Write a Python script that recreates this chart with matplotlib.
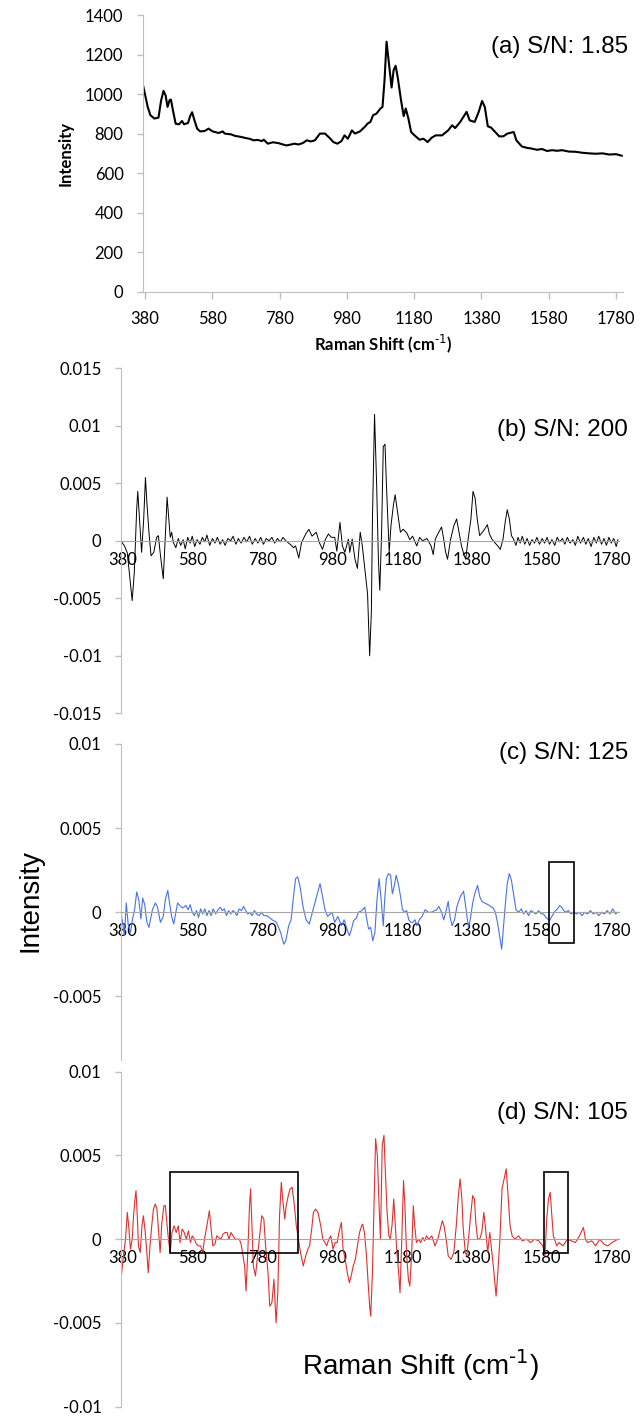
import matplotlib.pyplot as plt
from matplotlib.patches import Rectangle

plt.rcParams['font.family'] = ['Lato', 'DejaVu Sans']

# (a) raw spectrum
raman_a = [374, 388, 396, 408, 420, 428, 435, 441, 447, 453, 457, 463, 471, 481, 490, 496,
           508, 514, 520, 527, 535, 544, 557, 569, 581, 599, 611, 617, 636, 648, 663, 678,
           690, 703, 715, 727, 733, 745, 760, 776, 788, 800, 812, 824, 836, 849, 861, 873,
           885, 900, 915, 928, 940, 952, 964, 973, 983, 995, 1004, 1019, 1035, 1041, 1050,
           1058, 1068, 1080, 1086, 1092, 1098, 1104, 1113, 1119, 1125, 1131, 1141, 1149,
           1155, 1163, 1171, 1183, 1196, 1208, 1220, 1232, 1244, 1263, 1281, 1293, 1302,
           1317, 1336, 1345, 1360, 1372, 1382, 1390, 1399, 1409, 1421, 1433, 1445, 1457,
           1476, 1484, 1500, 1515, 1530, 1545, 1560, 1575, 1590, 1605, 1620, 1640, 1660,
           1680, 1700, 1720, 1740, 1760, 1780, 1797]
intensity_a = [1045, 935, 893, 876, 881, 969, 1016, 994, 935, 969, 972, 918, 850, 847, 864, 847,
               854, 888, 908, 867, 825, 811, 813, 825, 811, 803, 811, 800, 796, 788, 784, 778,
               774, 766, 768, 762, 769, 749, 756, 752, 746, 740, 744, 749, 745, 752, 766, 760,
               766, 800, 800, 779, 757, 749, 762, 791, 774, 816, 800, 811, 837, 850, 859,
               893, 901, 927, 935, 1070, 1265, 1172, 1033, 1121, 1143, 1087, 969, 888,
               927, 876, 808, 788, 769, 774, 757, 779, 791, 791, 816, 842, 828,
               859, 910, 867, 859, 910, 965, 935, 837, 830, 808, 786, 786, 800,
               808, 766, 735, 728, 724, 718, 722, 712, 716, 713, 716, 709, 708,
               703, 700, 698, 700, 694, 696, 688]

# (b) second derivative, S/N 200
raman_b = [374, 384, 392, 401, 406, 412, 419, 422, 427, 433, 439, 444, 448, 454, 460, 468,
           476, 481, 486, 495, 501, 506, 511, 515, 519, 524, 531, 538, 545, 552, 558, 565,
           572, 578, 585, 592, 600, 607, 614, 620, 628, 636, 643, 650, 658, 665, 672, 680,
           688, 695, 703, 710, 718, 726, 734, 742, 750, 758, 766, 774, 782, 790, 798, 806,
           814, 822, 830, 838, 846, 854, 862, 868, 874, 883, 891, 903, 912, 921, 933, 942,
           951, 959, 968, 976, 986, 992, 1001, 1008, 1015, 1025, 1029, 1036, 1044, 1051,
           1059, 1065, 1072, 1080, 1086, 1091, 1094, 1100, 1106, 1111, 1115, 1120, 1125,
           1130, 1134, 1139, 1142, 1147, 1154, 1159, 1166, 1174, 1182, 1192, 1201, 1209,
           1221, 1229, 1238, 1250, 1262, 1268, 1274, 1284, 1292, 1298, 1303, 1309, 1318,
           1327, 1335, 1342, 1349, 1356, 1361, 1368, 1376, 1382, 1388, 1394, 1401, 1409,
           1415, 1423, 1429, 1436, 1444, 1453, 1460, 1468, 1474, 1480, 1486, 1492, 1498,
           1505, 1511, 1517, 1523, 1530, 1537, 1544, 1551, 1558, 1565, 1572, 1580, 1587,
           1594, 1601, 1608, 1616, 1623, 1630, 1638, 1645, 1652, 1660, 1668, 1675, 1682,
           1690, 1698, 1705, 1712, 1720, 1728, 1735, 1742, 1750, 1757, 1764, 1771, 1778,
           1785, 1792, 1797]
deriv_b = [0.0, -0.00045, -0.00104, -0.0037, -0.0052, -0.0028, 0.0028, 0.0043, 0.0019, -0.001,
           0.0019, 0.0055, 0.0034, 0.00075, -0.0013, -0.001, 0.0003, 0.00045, -0.001, -0.0033,
           0.00045, 0.0038, 0.0019, 0.0003, 0.00075, -0.00015, -0.0006, 0.0002, -0.0004,
           0.0001, -0.0007, 0.0003, -0.0002, 0.0004, -0.0005, 0.0001, -0.0003, 0.0003, -0.0001,
           0.0005, -0.0004, 0.0002, -0.0002, 0.0003, -0.0003, 0.0001, -0.0004, 0.0002, 0.0,
           0.0004, -0.0003, 0.0002, -0.0002, 0.0003, -0.0001, 0.0004, -0.0003, 0.0002, -0.0002,
           0.0003, -0.0003, 0.0002, 0.0, 0.0003, -0.0002, 0.0002, -0.0001, 0.0003, 0.0,
           -0.0002, -0.0004, -0.0006, -0.00045, -0.0015, -0.00015, 0.0006, 0.001, 0.0004,
           0.00075, -0.00015, -0.00075, 0.0001, 0.0006, 0.0003, 0.0003, -0.0009, 0.0016,
           -0.00045, -0.001, 0.00015, -0.001, 0.00015, -0.0016, -0.0024, 0.00075, -0.00045,
           -0.0024, -0.0046, -0.01, -0.0061, 0.0019, 0.011, 0.0049, -0.0016, -0.0043, 0.00045,
           0.0082, 0.0084, 0.0049, 0.0013, -0.001, 0.0013, 0.0031, 0.004, 0.0025, 0.00075,
           0.001, 0.0007, 0.0001, 0.0004, -0.00045, 0.0003, 0.0, 0.0002, -0.00045, -0.0012,
           0.00015, 0.00075, 0.0012, 0.00015, -0.0009, -0.0016, 0.00015, 0.0013, 0.0019,
           0.00075, -0.00045, -0.0012, -0.0016, 0.00015, 0.0019, 0.0043, 0.0037, 0.0019,
           0.00045, 0.00075, 0.001, 0.0014, 0.0006, 0.00015, -0.00015, -0.00045, -0.00075,
           0.00015, 0.0016, 0.0027, 0.0019, 0.00045, 0.00015, -0.0004, 0.0003, -0.0002,
           0.0004, -0.0003, 0.0002, -0.0004, 0.0001, -0.0002, 0.0003, -0.0003, 0.0002,
           -0.0002, 0.0003, -0.0003, 0.0001, -0.0004, 0.0003, -0.0001, 0.0002, -0.0003,
           0.0003, -0.0002, 0.0001, -0.0004, 0.0004, -0.0002, 0.0003, -0.0003, 0.0002,
           -0.0005, 0.0003, -0.0002, 0.0004, -0.0003, 0.0002, -0.0004, 0.0003, -0.0002,
           0.0002, -0.0005, 0.0001]

# (c) second derivative, S/N 125
raman_c = [374, 384, 389, 395, 401, 407, 413, 419, 425, 431, 436, 442, 448, 454, 464, 472,
           478, 487, 495, 501, 508, 513, 519, 525, 531, 536, 545, 551, 560, 566, 572, 578,
           584, 590, 596, 602, 608, 614, 620, 626, 632, 638, 645, 652, 658, 664, 670, 676,
           682, 688, 694, 700, 706, 712, 719, 725, 731, 737, 743, 749, 756, 762, 770, 776,
           783, 790, 795, 807, 819, 831, 840, 846, 854, 861, 868, 874, 880, 887, 895, 904,
           913, 922, 934, 944, 951, 958, 966, 978, 986, 995, 1005, 1013, 1021, 1028, 1034,
           1040, 1048, 1054, 1064, 1072, 1078, 1083, 1089, 1095, 1101, 1107, 1113, 1119,
           1125, 1129, 1134, 1140, 1146, 1151, 1156, 1162, 1168, 1174, 1180, 1186, 1192,
           1198, 1204, 1209, 1216, 1221, 1228, 1236, 1245, 1254, 1264, 1272, 1278, 1284,
           1292, 1298, 1304, 1311, 1316, 1322, 1329, 1336, 1346, 1355, 1362, 1369, 1374,
           1381, 1387, 1395, 1401, 1407, 1415, 1425, 1433, 1440, 1446, 1452, 1458, 1464,
           1468, 1474, 1480, 1486, 1492, 1499, 1505, 1513, 1520, 1527, 1534, 1541, 1548,
           1555, 1562, 1570, 1577, 1584, 1590, 1596, 1601, 1606, 1612, 1618, 1624, 1630,
           1636, 1642, 1648, 1655, 1662, 1670, 1678, 1686, 1694, 1702, 1710, 1718, 1726,
           1734, 1742, 1750, 1758, 1766, 1774, 1782, 1790, 1797]
deriv_c = [0.0, -0.0014, 0.00055, -0.0008, -0.0012, -0.0004, 0.00015, 0.0012, 0.00075,
           -0.0004, 0.00085, 0.00045, -0.0006, -0.0009, 0.00015, 0.00055, 0.00035, -0.0006,
           -0.00025, 0.00075, 0.0013, 0.00055, -0.00025, -0.0007, 0.0, 0.00055, 0.00035,
           0.00025, 0.0004, 0.00015, 0.00045, 0.0, -0.0002, 0.0001, -0.0003, 0.0002, -0.0001,
           0.0002, -0.0002, 0.0001, -0.0002, 0.0002, -0.0001, 0.00015, 0.0003, 0.0001, 0.0002,
           -0.0002, 0.0001, -0.0001, 0.0001, 0.0, -0.0002, 0.0002, 0.0001, 0.00035, 0.0001,
           -0.0001, 0.0, -0.0002, 0.0001, -0.0001, -0.0002, 0.0, -0.0002, -0.0002, -0.00025,
           -0.00045, -0.0006, -0.0012, -0.0019, -0.0017, -0.0008, -0.00045, 0.00095, 0.002,
           0.0021, 0.0015, 0.00035, -0.00045, -0.0007, 0.0, 0.00095, 0.0017, 0.00095,
           0.00015, -0.00025, 0.0, -0.0006, -0.00025, -0.0008, -0.00045, -0.001, -0.0014,
           -0.001, -0.0005, -0.00035, 0.0, 0.0001, 0.0003, -0.00045, -0.001, -0.0009, -0.0017,
           -0.0012, 0.00075, 0.002, 0.00075, -0.0008, 0.00075, 0.002, 0.0023, 0.0022, 0.0011,
           0.0015, 0.0022, 0.0017, 0.001, 0.00015, 0.0, 0.0001, -0.00045, -0.0006, -0.0006,
           -0.00045, -0.0008, -0.00045, -0.00025, 0.00015, 0.0, 0.0, 0.0001, 0.00015, 0.00035,
           0.0, -0.00045, 0.0, 0.00065, -0.00025, -0.0008, -0.00045, 0.00035, 0.00095,
           0.00125, 0.00015, -0.0009, -0.00045, 0.00055, 0.0011, 0.0016, 0.00095, 0.00065,
           0.00055, 0.00045, 0.00035, 0.00025, 0.0, -0.0006, -0.0014, -0.0022, -0.0012,
           0.00035, 0.0017, 0.0023, 0.0019, 0.00095, 0.00015, 0.0, 0.0002, -0.0001, 0.0001,
           -0.0002, 0.0001, 0.0, -0.0001, 0.0001, -0.0001, -0.0001, -0.0003, -0.0004, -0.0005,
           -0.0003, -0.0001, 0.0001, 0.0002, 0.0004, 0.0003, 0.0001, 0.0, 0.0001, -0.0001,
           0.0, -0.0001, 0.0, -0.0002, 0.0, -0.0001, 0.0001, -0.0001, 0.0, -0.0002, 0.0,
           -0.0001, 0.0001, -0.0001, 0.0002, -0.0001, 0.0]

# (d) second derivative, S/N 105
raman_d = [374, 382, 387, 392, 396, 401, 406, 410, 414, 417, 421, 424, 429, 434, 438, 443,
           448, 452, 457, 462, 467, 472, 477, 482, 486, 491, 497, 501, 506, 511, 515, 520,
           526, 532, 538, 543, 549, 555, 561, 567, 573, 578, 584, 590, 596, 602, 608, 613,
           620, 627, 632, 637, 643, 648, 660, 666, 672, 678, 683, 689, 701, 713, 718, 728,
           732, 737, 742, 745, 749, 753, 759, 765, 772, 777, 783, 788, 795, 800, 806, 812,
           818, 823, 828, 833, 837, 843, 847, 853, 858, 864, 870, 876, 882, 888, 896, 903,
           909, 914, 920, 925, 931, 938, 946, 952, 958, 963, 969, 975, 981, 987, 993, 998,
           1005, 1010, 1016, 1022, 1028, 1033, 1039, 1045, 1051, 1057, 1063, 1066, 1071,
           1077, 1081, 1086, 1089, 1094, 1099, 1103, 1108, 1113, 1117, 1122, 1127, 1131,
           1136, 1141, 1145, 1150, 1155, 1159, 1164, 1169, 1173, 1178, 1183, 1187, 1192,
           1197, 1201, 1206, 1211, 1215, 1220, 1226, 1232, 1238, 1243, 1249, 1255, 1264,
           1273, 1281, 1288, 1294, 1299, 1305, 1311, 1319, 1327, 1334, 1340, 1345, 1350,
           1354, 1360, 1364, 1369, 1375, 1381, 1386, 1390, 1395, 1401, 1407, 1413, 1418,
           1424, 1430, 1436, 1442, 1448, 1453, 1459, 1465, 1471, 1477, 1483, 1488, 1494,
           1502, 1512, 1523, 1535, 1547, 1558, 1570, 1582, 1588, 1593, 1598, 1603, 1607,
           1612, 1617, 1622, 1628, 1640, 1652, 1663, 1675, 1687, 1698, 1704, 1710, 1722,
           1733, 1745, 1757, 1768, 1780, 1797]
deriv_d = [-0.0024, -0.0008, 0.0, 0.0016, 0.0008, -0.0006, 0.0, 0.0014, 0.0024, 0.0029,
           0.0012, -0.0004, -0.0008, 0.0008, 0.0014, 0.0005, -0.0008, -0.002, -0.0004, 0.0008,
           0.0018, 0.0021, 0.0018, 0.0004, -0.0008, 0.001, 0.002, 0.002, 0.0008, -0.0002,
           -0.0008, 0.0004, 0.0008, 0.0004, 0.0008, -0.0002, 0.0006, 0.0004, 0.0, 0.0005,
           -0.0002, 0.0002, 0.0, -0.0003, -0.0004, -0.0004, -0.0008, 0.0, 0.0008, 0.0017,
           0.0006, -0.0004, -0.0003, 0.0002, 0.0, 0.0003, 0.0004, 0.0004, 0.0, 0.0004, 0.0,
           0.0, -0.0003, -0.0016, -0.0031, -0.0008, 0.002, 0.003, 0.0008, -0.0016, -0.0022,
           -0.001, 0.0004, 0.0014, 0.0012, -0.0004, -0.002, -0.004, -0.0038, -0.0024, -0.005,
           -0.0032, 0.0014, 0.0034, 0.0024, 0.0012, 0.002, 0.0026, 0.003, 0.0031, 0.0021,
           0.0008, 0.0, -0.0008, -0.0016, -0.001, -0.0006, -0.0004, 0.0006, 0.0016, 0.0018,
           0.0016, 0.0008, 0.0, -0.0002, -0.0004, 0.0, 0.0002, -0.0006, -0.0002, -0.0002,
           0.0004, 0.001, -0.0006, -0.0012, -0.002, -0.0026, -0.0022, -0.0016, -0.0012,
           -0.0004, 0.0004, 0.0008, 0.0009, 0.0004, -0.001, -0.0024, -0.004, -0.0046, -0.002,
           0.0024, 0.006, 0.005, 0.002, 0.0, 0.0056, 0.0062, 0.004, 0.0016, 0.0002, 0.0,
           0.0008, 0.0024, 0.001, -0.0008, -0.002, -0.0032, 0.0, 0.0035, 0.002, -0.001,
           -0.0024, -0.0028, -0.001, 0.002, 0.0008, -0.0002, 0.0, -0.0002, 0.0001, -0.0001,
           0.0002, 0.0, 0.0002, -0.0004, 0.0, 0.0006, 0.0011, 0.0008, 0.0, -0.001, -0.0012,
           -0.0008, 0.0008, 0.0026, 0.0036, 0.0024, 0.0006, -0.0008, -0.001, 0.0, 0.0014,
           0.0026, 0.0024, 0.001, 0.0, 0.0, 0.0004, 0.0016, 0.0006, -0.0008, 0.0004, -0.0008,
           -0.002, -0.0034, -0.002, 0.0, 0.003, 0.0036, 0.0042, 0.0024, 0.0008, 0.0002, 0.0,
           0.0002, -0.0001, 0.0, -0.0002, 0.0, -0.0001, -0.0004, -0.001, 0.0012, 0.0024,
           0.0028, 0.0016, 0.0002, -0.0001, -0.0004, -0.0002, -0.0004, 0.0, -0.0001, -0.0002,
           0.0002, 0.0007, 0.0, -0.0002, -0.0001, -0.0004, 0.0, -0.0003, -0.0004, -0.0002,
           0.0]

titles = ['(a) S/N: 1.85', '(b) S/N: 200', '(c) S/N: 125', '(d) S/N: 105']
xticks = [380, 580, 780, 980, 1180, 1380, 1580, 1780]
# highlight boxes: (x0, y0, width, height) in data units
boxes_c = [(1600, -0.0018, 71, 0.0048)]
boxes_d = [(515, -0.0008, 365, 0.0048), (1585, -0.0008, 70, 0.0048)]

W, H = 641, 1420
fig = plt.figure(figsize=(W / 100, H / 100), dpi=100)


def place(l, t, r, b):
    return fig.add_axes([l / W, 1 - b / H, (r - l) / W, (b - t) / H])


GRAY = '#bfbfbf'
XLABEL = 'Raman Shift (cm$^{\\text{-1}}$)'


def style_common(ax):
    ax.spines['top'].set_visible(False)
    ax.spines['right'].set_visible(False)
    ax.spines['left'].set_color(GRAY)
    ax.tick_params(axis='y', color=GRAY, length=4, width=1, pad=10, labelsize=12)
    ax.set_xlim(374, 1800)
    ax.set_xticks(xticks)
    ax.set_xticklabels([str(t) for t in xticks])


# panel (a)
ax_a = place(143, 15, 622.7, 291.7)
ax_a.plot(raman_a, intensity_a, color='black', lw=1.5)
style_common(ax_a)
ax_a.set_ylim(0, 1400)
ax_a.set_yticks(range(0, 1401, 200))
ax_a.spines['bottom'].set_color(GRAY)
ax_a.tick_params(axis='x', color=GRAY, length=5, width=1, pad=9, labelsize=12)
ax_a.set_ylabel('Intensity', fontsize=12, fontweight='bold', labelpad=8)
ax_a.set_xlabel(XLABEL, fontsize=12, fontweight='bold', labelpad=4)


def deriv_panel(pos, x, y, color, lim, ticks, lw=0.8):
    ax = place(*pos)
    ax.plot(x, y, color=color, lw=lw)
    style_common(ax)
    ax.set_ylim(*lim)
    ax.set_yticks(ticks)
    ax.set_yticklabels(['0' if t == 0 else ('%g' % t) for t in ticks])
    ax.spines['bottom'].set_position(('data', 0))
    ax.spines['bottom'].set_color('#a6a6a6')
    ax.tick_params(axis='x', length=0, pad=8, labelsize=12)
    return ax


ax_b = deriv_panel((121, 368.3, 619, 713.3), raman_b, deriv_b, 'black',
                   (-0.015, 0.015), [-0.015, -0.01, -0.005, 0, 0.005, 0.01, 0.015], lw=0.7)
ax_c = deriv_panel((121, 744, 619, 1060), raman_c, deriv_c, '#4a72e8',
                   (-0.00878, 0.01), [-0.005, 0, 0.005, 0.01])
ax_d = deriv_panel((121, 1071.7, 619, 1406.7), raman_d, deriv_d, '#e0302f',
                   (-0.01, 0.01), [-0.01, -0.005, 0, 0.005, 0.01])

for ax, bx in [(ax_c, boxes_c), (ax_d, boxes_d)]:
    for x0, y0, w, h in bx:
        ax.add_patch(Rectangle((x0, y0), w, h, fill=False, edgecolor='black', lw=1.2,
                               zorder=5))

for title, yc in zip(titles, [47, 430, 753, 1113]):
    fig.text(628 / W, 1 - yc / H, title, ha='right', va='center',
             family='Liberation Sans', fontsize=17.5)

fig.text(30 / W, 1 - 900 / H, 'Intensity', rotation=90, ha='center', va='center',
         family='Liberation Sans', fontsize=20)
fig.text(420 / W, 1 - 1365 / H, XLABEL, ha='center', va='center',
         family='Liberation Sans', fontsize=20)

fig.savefig('out.png', dpi=100)
